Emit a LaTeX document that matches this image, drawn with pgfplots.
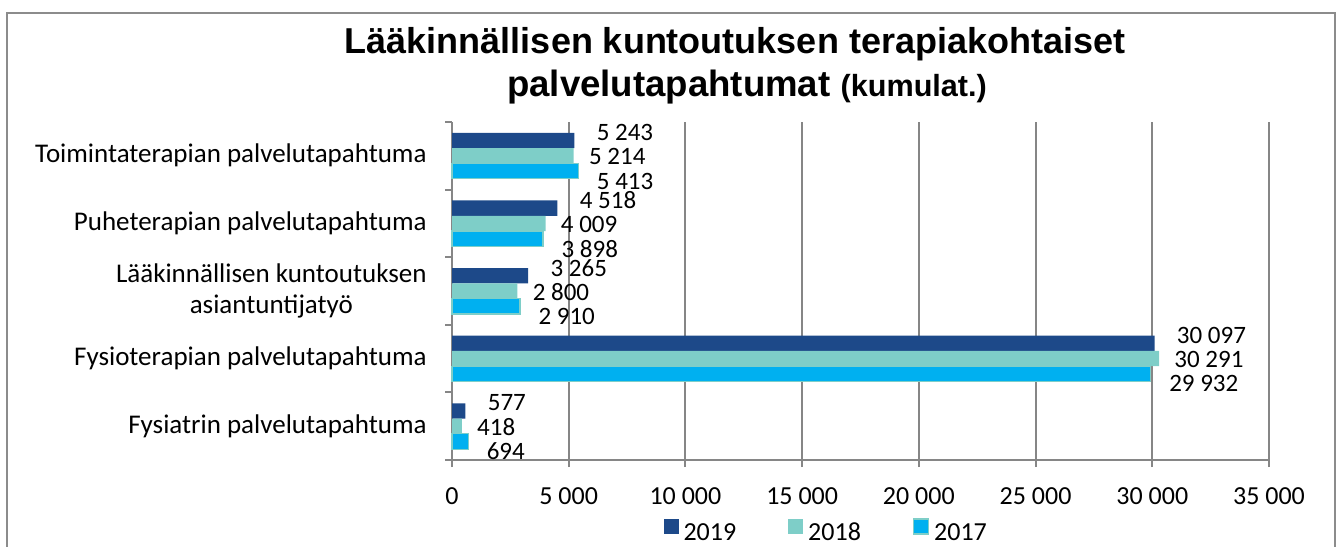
\documentclass[border=0pt]{standalone}
\usepackage{fontspec}
\setmainfont{Carlito}
\newfontfamily\arialfont{Liberation Sans}
\usepackage{pgfplots}
\pgfplotsset{compat=1.18}
\definecolor{c19}{RGB}{29,73,137}
\definecolor{c18}{RGB}{126,206,200}
\definecolor{c17}{RGB}{0,176,240}
\definecolor{gridgray}{RGB}{134,134,134}
\definecolor{framegray}{RGB}{140,140,140}
\begin{document}
\begin{tikzpicture}
\useasboundingbox (0,0) rectangle (668pt,273pt);
\draw[framegray, line width=1pt] (3.5pt,-2pt) -- (3.5pt,266.5pt) -- (667.5pt,266.5pt) -- (667.5pt,-2pt);
\node[font=\arialfont\bfseries\fontsize{18}{22}\selectfont, anchor=base, inner sep=0pt] at (367.5pt,246pt) {Lääkinnällisen kuntoutuksen terapiakohtaiset};
\node[font=\arialfont\bfseries\fontsize{18.3}{22}\selectfont, anchor=base, inner sep=0pt] at (373.5pt,224.5pt) {palvelutapahtumat {\fontsize{15.3}{18}\selectfont (kumulat.)}};
\begin{axis}[
  at={(226pt,43pt)}, anchor=south west,
  scale only axis, width=408.5pt, height=169pt,
  xbar, bar width=0.226,
  xmin=0, xmax=35000, ymin=-0.5, ymax=4.5,
  axis x line*=bottom, axis y line*=left,
  axis line style={draw=gridgray, line width=1pt, -},
  xmajorgrids, grid style={draw=gridgray, line width=1pt},
  scaled x ticks=false,
  xtick={0,5000,10000,15000,20000,25000,30000,35000},
  xticklabels={0,5 000,10 000,15 000,20 000,25 000,30 000,35 000},
  xticklabel style={yshift=-7pt},
  tick align=outside, major tick length=3.5pt,
  tick style={draw=gridgray, line width=1pt},
  ytick={-0.5,0.5,1.5,2.5,3.5,4.5}, yticklabels={},
  extra y ticks={0,1,2,3,4},
  extra y tick labels={Fysiatrin palvelutapahtuma, Fysioterapian palvelutapahtuma, {Lääkinnällisen kuntoutuksen\\asiantuntijatyö}, Puheterapian palvelutapahtuma, Toimintaterapian palvelutapahtuma},
  extra y tick style={major tick length=0pt, yticklabel style={align=center, anchor=east, inner sep=0pt, xshift=-12.5pt, font=\fontsize{13.5}{15.6}\selectfont}},
  ticklabel style={font=\fontsize{13}{15.6}\selectfont},
  /pgf/number format/1000 sep={\ },
  /pgf/number format/assume math mode=true,
  clip=false,
  legend style={draw=none, at={(0.458,-0.213)}, anchor=center, legend columns=3,
    font=\fontsize{13}{15.6}\selectfont,
    nodes={inner sep=1pt},
    /tikz/every odd column/.append style={column sep=1.5pt},
    /tikz/every even column/.append style={column sep=25pt}},
  legend cell align=left,
  legend image code/.code={\fill[#1] (0pt,-0.3pt) rectangle (7.5pt,7.2pt);},
]
\addplot[fill=c19, draw=none, bar shift=0.226, nodes near coords,
  every node near coord/.append style={anchor=west, inner sep=0pt, xshift=11pt, yshift=4pt, font=\fontsize{12.5}{15}\selectfont, text=black}]
  coordinates {(577,0) (30097,1) (3265,2) (4518,3) (5243,4)};
\addlegendentry{2019}
\addplot[fill=c18, draw=none, bar shift=0, nodes near coords,
  every node near coord/.append style={anchor=west, inner sep=0pt, xshift=7.5pt, yshift=-0.5pt, font=\fontsize{12.5}{15}\selectfont, text=black}]
  coordinates {(418,0) (30291,1) (2800,2) (4009,3) (5214,4)};
\addlegendentry{2018}
\addplot[fill=c17, draw=c18, line width=0.6pt, bar shift=-0.226, nodes near coords,
  every node near coord/.append style={anchor=west, inner sep=0pt, xshift=9pt, yshift=-5pt, font=\fontsize{12.5}{15}\selectfont, text=black}]
  coordinates {(694,0) (29932,1) (2910,2) (3898,3) (5413,4)};
\addlegendentry{2017}
\end{axis}
\end{tikzpicture}
\end{document}
